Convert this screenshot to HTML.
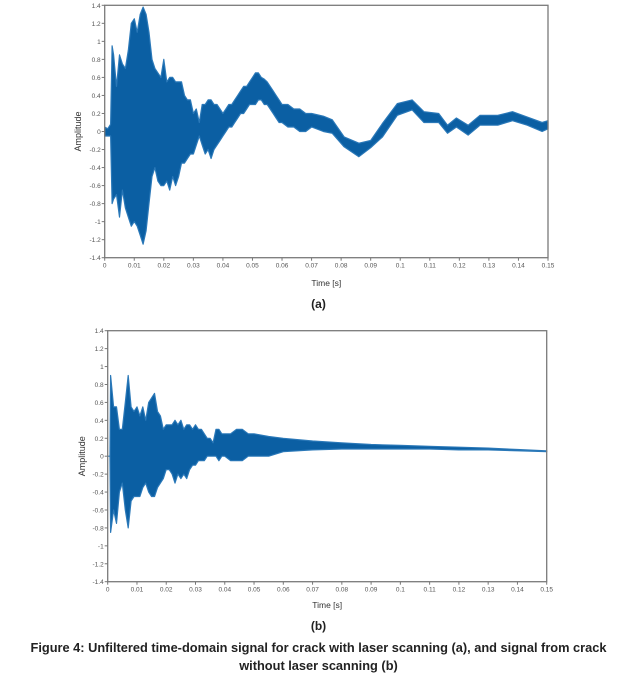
<!DOCTYPE html>
<html><head><meta charset="utf-8"><style>
body{margin:0;background:#fff;width:637px;height:686px;overflow:hidden;font-family:"Liberation Sans",sans-serif}
svg{position:absolute;left:0;top:0}
.cap{position:absolute;left:0;width:637px;text-align:center;font-weight:bold;font-size:12.8px;color:#222;white-space:nowrap}
</style></head><body>
<svg id="s" width="637" height="686"></svg>
<div class="cap" style="top:297px;font-size:12px">(a)</div>
<div class="cap" style="top:619px;font-size:12px">(b)</div>
<div class="cap" style="top:640px">Figure 4: Unfiltered time-domain signal for crack with laser scanning (a), and signal from crack</div>
<div class="cap" style="top:658px">without laser scanning (b)</div>
<script>
const yTicks=[1.4,1.2,1,0.8,0.6,0.4,0.2,0,-0.2,-0.4,-0.6,-0.8,-1,-1.2,-1.4];
const xTicks=[0,0.01,0.02,0.03,0.04,0.05,0.06,0.07,0.08,0.09,0.1,0.11,0.12,0.13,0.14,0.15];
// chart a envelope (time ms, upper, lower)
const timeA=[0,1,2,2.5,3,4,5,6,7,8,9,10,11,12,13,14,15,16,17,18,19,20,21,22,23,24,25,26,27,28,29,30,31,32,33,34,35,36,37,38,39,40,41,42,43,44,45,46,47,48,49,50,51,52,53,54,55,56,57,58,59,60,62,64,66,68,70,74,77,81,86,90,94,99,104,108,113,116,119,123,127,133,138,143,148,150];
const upperA=[.05,.03,.08,.95,.85,.5,.85,.75,.7,.9,1.2,1.25,1.1,1.3,1.38,1.3,1.1,.8,.7,.65,.6,.8,.55,.6,.6,.55,.55,.55,.4,.35,.35,.2,.25,.1,.3,.3,.35,.35,.3,.3,.25,.2,.25,.3,.3,.35,.4,.45,.5,.5,.55,.6,.65,.65,.6,.58,.55,.5,.45,.4,.35,.3,.3,.25,.25,.2,.2,.17,.13,-.06,-.13,-.1,.09,.31,.35,.22,.2,.07,.15,.07,.18,.18,.22,.16,.1,.12];
const lowerA=[-.05,-.05,-.05,-.8,-.75,-.7,-.95,-.65,-.85,-.95,-1.05,-1,-1.05,-1.15,-1.25,-1.1,-.8,-.5,-.4,-.55,-.6,-.6,-.55,-.65,-.5,-.6,-.5,-.35,-.35,-.3,-.25,-.25,-.15,-.05,-.15,-.25,-.2,-.3,-.2,-.15,-.1,-.05,0,.05,.05,.1,.15,.2,.2,.25,.3,.3,.3,.35,.35,.3,.3,.25,.2,.15,.1,.1,.05,.05,0,0,.05,0,-.02,-.17,-.28,-.18,-.06,.18,.24,.1,.1,-.02,.05,-.04,.07,.07,.12,.07,0,.03];
// chart b envelope
const timeB=[0,0.8,1,2,3,4,5,6,7,8,9,10,11,12,13,14,15,16,17,18,19,20,21,22,23,24,25,26,27,28,29,30,31,32,33,34,35,36,37,38,39,40,42,44,46,48,50,55,60,70,80,90,100,110,120,130,140,150];
const upperB=[0,0,.9,.55,.55,.3,.3,.6,.9,.55,.5,.55,.45,.55,.4,.6,.65,.7,.5,.45,.3,.35,.35,.35,.4,.35,.4,.3,.35,.35,.3,.35,.3,.3,.25,.2,.2,.15,.3,.3,.25,.25,.25,.3,.3,.25,.25,.22,.2,.17,.15,.13,.12,.11,.1,.09,.075,.06];
const lowerB=[0,0,-.85,-.6,-.75,-.4,-.3,-.6,-.8,-.5,-.45,-.45,-.45,-.35,-.3,-.4,-.45,-.45,-.35,-.3,-.25,-.15,-.15,-.2,-.3,-.2,-.25,-.2,-.25,-.15,-.1,-.1,-.05,-.05,-.05,0,0,0,0,-.05,0,0,-.05,-.05,-.05,0,0,0,.05,.07,.08,.08,.08,.08,.07,.07,.06,.05];

const s=document.getElementById('s');const NS='http://www.w3.org/2000/svg';
function mk(t,a,p){const e=document.createElementNS(NS,t);for(const k in a)e.setAttribute(k,a[k]);(p||s).appendChild(e);return e;}
function chart(L,R,T,B,times,up,lo,name,ylabX,xlabY){
  const g=mk('g',{});
  
  
  const xs=t=>L+(t/0.15)*(R-L), ys=v=>T+(1.4-v)/2.8*(B-T);
  let pts=[];
  for(let i=0;i<times.length;i++)pts.push(xs(times[i]/1000).toFixed(1)+','+ys(up[i]).toFixed(1));
  for(let i=times.length-1;i>=0;i--)pts.push(xs(times[i]/1000).toFixed(1)+','+ys(lo[i]).toFixed(1));
  const p=mk('polygon',{points:pts.join(' '),fill:'#0b5fa3',stroke:'#2a78b8','stroke-width':'1.2','stroke-linejoin':'round'},g);
  
  
  const f=mk('rect',{x:L,y:T,width:R-L,height:B-T,fill:'none',stroke:'#7a7a7a','stroke-width':'1.3'},g);
  
  
  yTicks.forEach(v=>{const y=ys(v);mk('line',{x1:L-3,x2:L,y1:y,y2:y,stroke:'#777'},g);
    const t=mk('text',{x:L-4,y:y+2.5,'font-size':'6.5','text-anchor':'end',fill:'#555','font-family':'Liberation Sans, sans-serif'},g);t.textContent=String(v);
    
    });
  xTicks.forEach(v=>{const x=xs(v);mk('line',{x1:x,x2:x,y1:B,y2:B+3,stroke:'#777'},g);
    const t=mk('text',{x:x,y:B+10,'font-size':'6.5','text-anchor':'middle',fill:'#555','font-family':'Liberation Sans, sans-serif'},g);t.textContent=String(v);
    
    });
  const yl=mk('text',{x:0,y:0,transform:`translate(${ylabX},${(T+B)/2}) rotate(-90)`,'font-size':'9','text-anchor':'middle',fill:'#333','font-family':'Liberation Sans, sans-serif'},g);yl.textContent='Amplitude';
  
  
  const xl=mk('text',{x:(L+R)/2,y:xlabY,'font-size':'8.5','text-anchor':'middle',fill:'#333','font-family':'Liberation Sans, sans-serif'},g);xl.textContent='Time [s]';
  
  
}
chart(104.7,548,5.3,257.7,timeA,upperA,lowerA,'chart-a',81,286);
chart(107.7,546.7,330.7,581.7,timeB,upperB,lowerB,'chart-b',85,608);
</script>
</body></html>
